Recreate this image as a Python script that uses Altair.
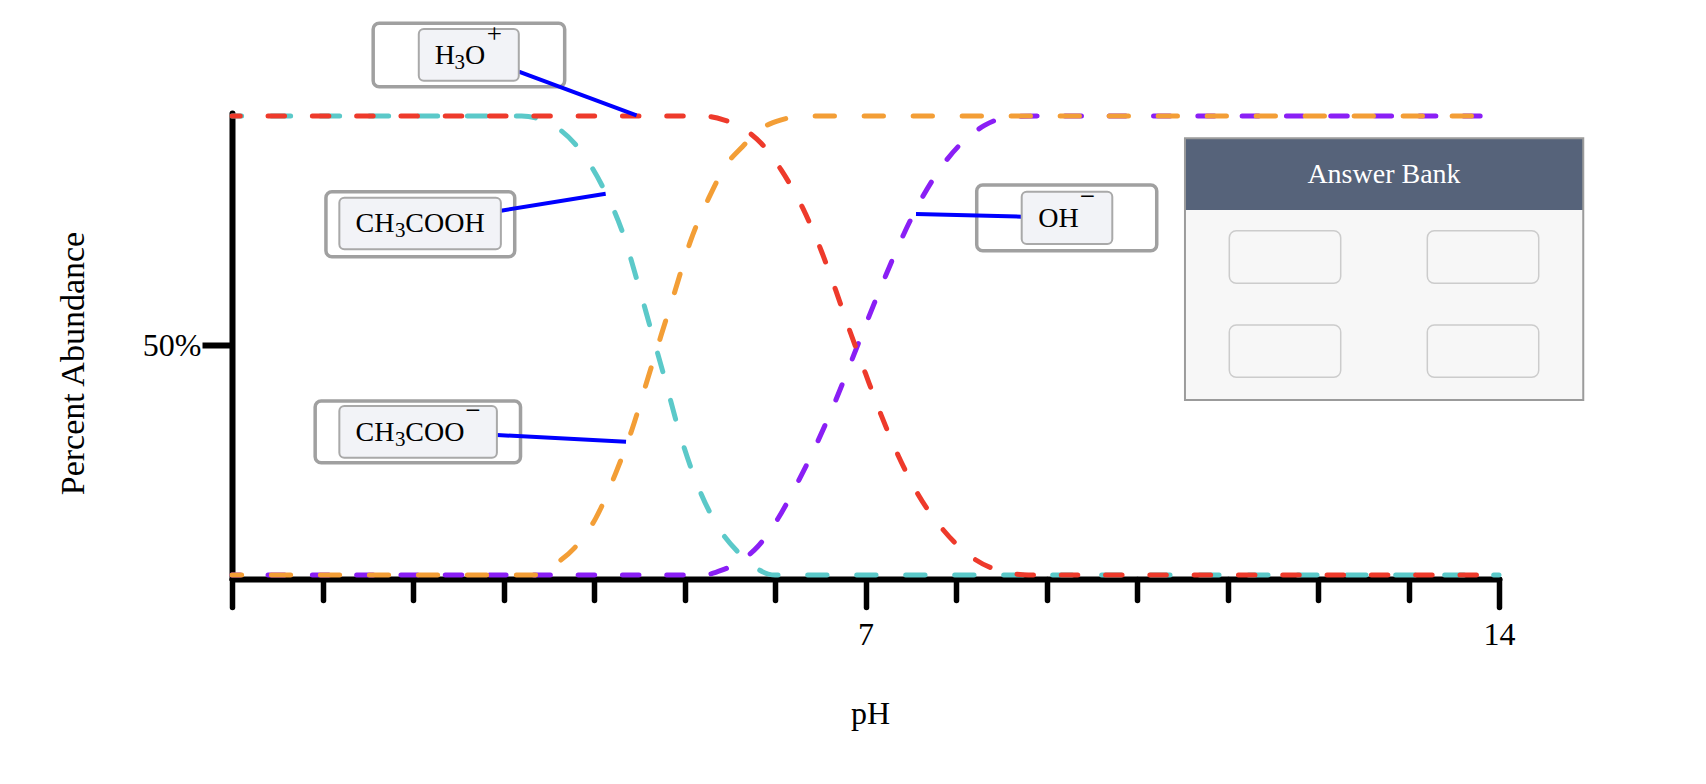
import altair as alt
import pandas as pd

FONT = "Liberation Serif"

# ---------------- data ----------------
# CH3COOH (teal)
acid_ph = [0, 3.20, 3.40, 3.79, 4.09, 4.32, 4.48, 4.63, 4.78, 4.93, 5.10, 5.33, 5.60, 5.77, 6.00, 14]
acid_pct = [100, 100, 99.3, 93.9, 84.8, 74.4, 63.9, 53.4, 42.9, 32.0, 21.8, 11.8, 4.8, 1.8, 0, 0]
# CH3COO- (orange)
base_ph = [0, 3.35, 3.58, 3.78, 4.02, 4.24, 4.42, 4.58, 4.74, 4.90, 5.06, 5.27, 5.46, 5.64, 5.83, 6.06, 6.35, 14]
base_pct = [0, 0, 2.5, 5.8, 12.4, 22.2, 31.7, 41.9, 52.1, 62.2, 72.4, 82.2, 89.3, 93.3, 97.0, 99.1, 100, 100]
# H3O+ (red)
h3o_ph = [0, 5.20, 5.44, 5.67, 5.85, 6.07, 6.31, 6.51, 6.67, 6.83, 7.00, 7.17, 7.36, 7.58, 7.86, 8.21, 8.55, 8.80, 14]
h3o_pct = [100, 100, 99.1, 97.0, 94.0, 88.2, 79.8, 70.7, 62.1, 53.0, 43.9, 35.0, 26.1, 17.6, 9.8, 3.4, 0.6, 0, 0]
# OH- (purple)
oh_ph = [0, 5.20, 5.42, 5.64, 5.81, 6.03, 6.26, 6.47, 6.67, 6.85, 7.03, 7.21, 7.40, 7.62, 7.88, 8.14, 8.32, 8.60, 8.90, 14]
oh_pct = [0, 0, 1.1, 3.3, 6.2, 12.2, 20.5, 29.0, 38.0, 46.9, 55.9, 64.6, 73.3, 82.0, 90.0, 95.5, 98.0, 99.8, 100, 100]

x_ticks = list(range(15))
x_tick_labels = [7, 14]
y_ticks = [50]

# label annotations (pH, percent units)
label_names = ["H3O+", "CH3COOH", "CH3COO-", "OH-"]
outer_x0 = [1.560, 1.038, 0.919, 8.229]
outer_x1 = [3.676, 3.124, 3.188, 10.218]
outer_y0 = [120.20, 83.51, 37.91, 84.97]
outer_y1 = [106.38, 69.35, 24.47, 70.65]
inner_x0 = [2.064, 1.186, 1.186, 8.726]
inner_x1 = [3.169, 2.971, 2.927, 9.727]
inner_y0 = [118.95, 82.20, 36.82, 83.51]
inner_y1 = [107.69, 70.96, 25.56, 72.11]
lead_x0 = [3.169, 2.971, 2.927, 7.558]
lead_y0 = [109.65, 79.37, 30.50, 78.65]
lead_x1 = [4.470, 4.129, 4.354, 8.726]
lead_y1 = [100.11, 83.05, 29.04, 78.06]

# text pieces: main text, subscripts, superscripts
main_txt = ["H", "O", "CH", "COOH", "CH", "COO", "OH"]
main_x = [2.241, 2.575, 1.366, 1.915, 1.366, 1.915, 8.910]
main_y = [111.33, 111.33, 74.66, 74.66, 29.26, 29.26, 75.88]
sub_txt = ["3", "3", "3"]
sub_x = [2.459, 1.801, 1.801]
sub_y = [110.17, 73.57, 28.17]
sup_txt = ["+", "\u2212", "\u2212"]
sup_x = [2.814, 2.578, 9.368]
sup_y = [115.90, 33.99, 80.65]

# answer bank
bank_title = "Answer Bank"
bank_x = [10.530, 14.931]
bank_y = [95.14, 38.13]
bank_head_y = [95.14, 79.52]
bank_title_pos = [12.729, 85.34]
slot_x0 = [11.020, 13.208, 11.020, 13.208]
slot_x1 = [12.251, 14.439, 12.251, 14.439]
slot_y0 = [75.01, 75.01, 54.47, 54.47]
slot_y1 = [63.55, 63.55, 43.07, 43.07]

# ---------------- chart ----------------
xs = alt.Scale(domain=[0, 14], nice=False, zero=False)
ys = alt.Scale(domain=[-0.87, 100.65], nice=False, zero=False)

x_axis = alt.Axis(
    values=x_ticks,
    domainColor="black", domainWidth=6, domainCap="round",
    tickColor="black", tickWidth=5.5, tickCap="round", tickSize=28,
    tickDash={"condition": {"test": "datum.value % 7 === 0", "value": [100, 0]}, "value": [21, 100]},
    labelExpr="(datum.value === 7 || datum.value === 14) ? datum.label : ''",
    labelFont=FONT, labelFontSize=32, labelColor="black", labelBaseline="alphabetic",
    labelPadding=37, labelFlush=False, labelOverlap=False,
    grid=False, title="pH", titleFont=FONT, titleFontSize=32, titleFontWeight="normal",
    titleColor="black", titleX=638, titleY=144, titleBaseline="alphabetic", titleAlign="center",
)
y_axis = alt.Axis(
    values=y_ticks, labelExpr="'50%'",
    domainColor="black", domainWidth=6, domainCap="round",
    tickColor="black", tickWidth=6, tickSize=30, tickCap="butt",
    labelFont=FONT, labelFontSize=32, labelColor="black", labelPadding=1,
    labelBaseline="middle", labelAlign="right",
    grid=False, title="Percent Abundance", titleFont=FONT, titleFontSize=34,
    titleFontWeight="normal", titleColor="black", titleAngle=270, titleX=-149, titleY=250,
    titleBaseline="alphabetic", titleAlign="center",
)


def X(f):
    return alt.X(f, type="quantitative", scale=xs, axis=x_axis)


def Y(f):
    return alt.Y(f, type="quantitative", scale=ys, axis=y_axis)


series = [
    ("OH-", oh_ph, oh_pct),
    ("CH3COOH", acid_ph, acid_pct),
    ("CH3COO-", base_ph, base_pct),
    ("H3O+", h3o_ph, h3o_pct),
]
styles = {
    "OH-": dict(color="#8a1ff5", dash=[16.5, 27.8]),
    "CH3COOH": dict(color="#5bc9c9", dash=[19.3, 29.7]),
    "CH3COO-": dict(color="#f39e36", dash=[19.3, 29.7]),
    "H3O+": dict(color="#ee3a2b", dash=[16.5, 27.8]),
}

layers = []
for name, phs, pcts in series:
    df = pd.DataFrame({"ph": phs, "pct": pcts})
    st = styles[name]
    layers.append(
        alt.Chart(df).mark_line(
            interpolate="monotone", strokeWidth=5, strokeCap="round",
            strokeDash=st["dash"], strokeDashOffset=st["dash"][0] / 2, color=st["color"],
        ).encode(x=X("ph"), y=Y("pct"))
    )

ann = pd.DataFrame({
    "name": label_names,
    "ox0": outer_x0, "ox1": outer_x1, "oy0": outer_y0, "oy1": outer_y1,
    "ix0": inner_x0, "ix1": inner_x1, "iy0": inner_y0, "iy1": inner_y1,
    "lx0": lead_x0, "ly0": lead_y0, "lx1": lead_x1, "ly1": lead_y1,
})

outer = alt.Chart(ann).mark_rect(
    fill="white", stroke="#a0a0a0", strokeWidth=3.5, cornerRadius=6
).encode(x=X("ox0"), x2="ox1", y=Y("oy0"), y2="oy1")
leaders = alt.Chart(ann).mark_rule(color="#0000ff", strokeWidth=4).encode(
    x=X("lx0"), x2="lx1", y=Y("ly0"), y2="ly1")
inner = alt.Chart(ann).mark_rect(
    fill="#f2f3f7", stroke="#a9a9a9", strokeWidth=2, cornerRadius=5
).encode(x=X("ix0"), x2="ix1", y=Y("iy0"), y2="iy1")

main_df = pd.DataFrame({"t": main_txt, "x": main_x, "y": main_y})
sub_df = pd.DataFrame({"t": sub_txt, "x": sub_x, "y": sub_y})
sup_df = pd.DataFrame({"t": sup_txt, "x": sup_x, "y": sup_y})
txt_main = alt.Chart(main_df).mark_text(
    align="left", baseline="alphabetic", font=FONT, fontSize=28, color="black"
).encode(x=X("x"), y=Y("y"), text="t:N")
txt_sub = alt.Chart(sub_df).mark_text(
    align="left", baseline="alphabetic", font=FONT, fontSize=21, color="black"
).encode(x=X("x"), y=Y("y"), text="t:N")
txt_sup = alt.Chart(sup_df).mark_text(
    align="left", baseline="alphabetic", font=FONT, fontSize=27, color="black"
).encode(x=X("x"), y=Y("y"), text="t:N")

bank_df = pd.DataFrame({"x0": [bank_x[0]], "x1": [bank_x[1]], "y0": [bank_y[0]], "y1": [bank_y[1]],
                        "h0": [bank_head_y[0]], "h1": [bank_head_y[1]],
                        "tx": [bank_title_pos[0]], "ty": [bank_title_pos[1]], "t": [bank_title]})
bank_body = alt.Chart(bank_df).mark_rect(fill="#f7f7f7").encode(
    x=X("x0"), x2="x1", y=Y("y0"), y2="y1")
bank_head = alt.Chart(bank_df).mark_rect(fill="#56637a").encode(
    x=X("x0"), x2="x1", y=Y("h0"), y2="h1")
bank_border = alt.Chart(bank_df).mark_rect(fillOpacity=0, stroke="#9b9b9b", strokeWidth=2).encode(
    x=X("x0"), x2="x1", y=Y("y0"), y2="y1")
bank_text = alt.Chart(bank_df).mark_text(
    align="center", baseline="alphabetic", font=FONT, fontSize=28, color="white"
).encode(x=X("tx"), y=Y("ty"), text="t:N")
slots_df = pd.DataFrame({"x0": slot_x0, "x1": slot_x1, "y0": slot_y0, "y1": slot_y1})
slots = alt.Chart(slots_df).mark_rect(
    fill="#f7f7f7", stroke="#cccccc", strokeWidth=1.5, cornerRadius=7
).encode(x=X("x0"), x2="x1", y=Y("y0"), y2="y1")

chart = alt.layer(
    *layers, outer, leaders, inner, txt_main, txt_sub, txt_sup,
    bank_body, bank_head, bank_border, bank_text, slots,
).properties(
    width=1267, height=466,
    background="white",
    autosize=alt.AutoSizeParams(type="none"),
    padding={"left": 224, "top": 105, "right": 170, "bottom": 190},
).configure_view(strokeWidth=0, stroke="transparent")

chart.save("out.html", embed_options={"renderer": "svg", "actions": False})
